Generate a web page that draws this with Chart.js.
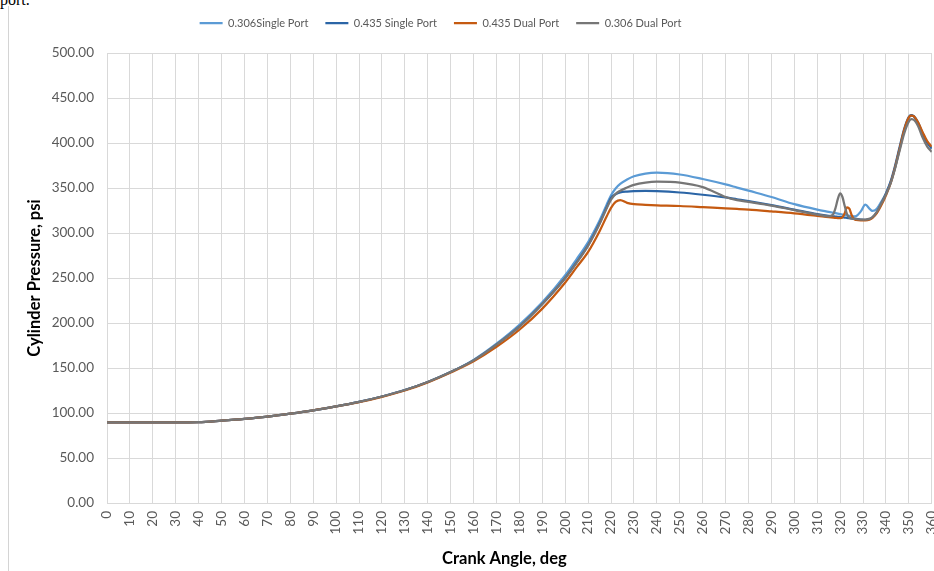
<!DOCTYPE html>
<html>
<head>
<meta charset="utf-8">
<script src="https://cdn.jsdelivr.net/npm/chart.js@4/dist/chart.umd.min.js"></script>
<style>
  html, body { margin: 0; padding: 0; background: #fff; width: 934px; height: 571px; overflow: hidden; }
  #frag { position: absolute; left: 0; top: -9px; font: 16px "Liberation Serif", serif; color: #000; line-height: 18px; }
  #frame { position: absolute; left: 8px; top: 6px; height: 600px; border-left: 1px solid #d4d4d4; }
  #wrap { position: absolute; left: 9px; top: 0; width: 947px; height: 571px; }
</style>
</head>
<body>
<div id="frag">port.</div>
<div id="frame"></div>
<div id="wrap"><canvas id="chart"></canvas></div>
<script>
// Crank angle samples (deg) shared by all four pressure traces
const crankAngle = [
  0, 10, 20, 30, 40, 50, 60, 70, 80, 90,
  100, 110, 120, 130, 140, 150, 160, 170, 180, 190,
  200, 205, 210, 215, 218, 220, 222, 224, 227, 230,
  235, 240, 250, 260, 270, 275, 280, 290, 300, 310,
  315, 317, 318, 319, 320, 321, 322, 323, 324, 325,
  326, 327, 329, 331, 333, 334, 336, 338, 340, 342,
  344, 346, 348, 350, 351, 352, 354, 356, 358, 360
];

// Cylinder pressure (psi)
const single306 = [
  89.5, 89.5, 89.5, 89.5, 89.8, 91.5, 93.5, 96.0, 99.3, 103.0,
  107.3, 112.3, 118.3, 125.5, 134.5, 145.5, 159.0, 177.0, 198.0, 223.0,
  253.0, 271.0, 290.0, 314.0, 331.0, 342.0, 349.5, 354.5, 359.5, 363.0,
  366.0, 367.0, 365.0, 360.0, 354.0, 350.5, 347.0, 340.0, 332.0, 326.0,
  323.5, 322.5, 322.0, 321.5, 321.0, 320.5, 320.0, 319.5, 319.0, 318.7,
  318.5, 318.8, 324.0, 331.5, 326.5, 324.5, 327.0, 335.0, 344.0, 356.0,
  373.0, 394.0, 414.0, 428.0, 430.5, 430.0, 423.0, 411.0, 401.0, 394.0
];
const single435 = [
  89.5, 89.5, 89.5, 89.5, 89.8, 91.5, 93.5, 96.0, 99.3, 103.0,
  107.3, 112.3, 118.3, 125.5, 134.5, 145.5, 158.5, 176.0, 196.0, 221.0,
  250.0, 267.5, 286.5, 311.0, 328.0, 339.0, 343.0, 345.0, 346.0, 346.5,
  346.8, 346.5, 345.0, 342.5, 339.5, 337.5, 335.5, 331.0, 326.0, 321.0,
  319.0, 318.5, 318.2, 318.0, 317.7, 317.4, 317.1, 316.8, 316.5, 316.2,
  315.9, 315.6, 315.0, 314.6, 315.5, 317.0, 323.0, 333.0, 344.0, 357.0,
  375.0, 396.0, 416.0, 429.0, 431.0, 430.0, 422.0, 410.0, 400.0, 394.0
];
const dual435 = [
  89.5, 89.5, 89.5, 89.5, 89.8, 91.5, 93.5, 96.0, 99.3, 103.0,
  107.3, 112.0, 118.0, 125.0, 134.0, 145.0, 157.5, 173.5, 192.5, 216.0,
  245.0, 262.0, 279.0, 302.0, 318.0, 328.0, 334.5, 336.5, 333.5, 332.0,
  331.3, 330.8, 330.0, 328.7, 327.3, 326.7, 326.0, 324.0, 321.8, 319.0,
  317.5, 317.0, 316.8, 316.6, 316.5, 317.5, 322.0, 328.5, 327.0, 320.0,
  315.5, 314.5, 314.0, 314.0, 315.0, 316.5, 322.0, 331.0, 342.0, 355.0,
  373.0, 394.0, 415.0, 428.5, 430.5, 430.0, 423.0, 412.0, 402.0, 396.0
];
const dual306 = [
  89.5, 89.5, 89.5, 89.5, 89.8, 91.5, 93.5, 96.0, 99.3, 103.0,
  107.3, 112.3, 118.3, 125.5, 134.5, 145.5, 158.5, 176.0, 196.0, 221.0,
  250.0, 267.0, 286.0, 310.0, 327.0, 337.0, 343.5, 347.0, 350.5, 353.5,
  356.0, 357.0, 356.0, 351.0, 340.0, 336.5, 334.5, 330.5, 325.5, 320.5,
  318.5, 321.0, 328.0, 338.0, 344.0, 340.0, 330.0, 321.0, 317.0, 316.0,
  315.7, 315.5, 315.0, 315.0, 316.0, 317.5, 323.5, 333.0, 343.0, 355.0,
  372.0, 392.0, 411.0, 424.0, 426.5, 426.0, 419.0, 406.0, 396.0, 390.0
];

const seriesNames = ['0.306Single Port', '0.435 Single Port', '0.435 Dual Port', '0.306 Dual Port'];
const seriesColors = ['#5B9BD5', '#2B65A6', '#C55A11', '#767676'];
const xAxisTitle = 'Crank Angle, deg';
const yAxisTitle = 'Cylinder Pressure, psi';

const FONT = 'Lato, "Open Sans", sans-serif';
Chart.defaults.font.family = FONT;

function points(values) {
  return crankAngle.map((a, i) => ({ x: a, y: values[i] }));
}

// Axis titles, drawn after the plot
const axisTitles = {
  id: 'axisTitles',
  afterDraw(chart) {
    const { ctx, chartArea } = chart;
    ctx.save();
    ctx.fillStyle = '#000';
    ctx.font = 'bold 16.5px ' + FONT;
    ctx.textAlign = 'center';
    ctx.textBaseline = 'middle';
    ctx.fillText(xAxisTitle, (chartArea.left + chartArea.right) / 2 - 15, 559);
    ctx.translate(26, (chartArea.top + chartArea.bottom) / 2);
    ctx.rotate(-Math.PI / 2);
    ctx.fillText(yAxisTitle, 0, 0);
    ctx.restore();
  }
};

// Places the legend row a little left of the canvas centre and near the top edge
const legendPlace = {
  id: 'legendPlace',
  afterLayout(chart) {
    const lg = chart.legend;
    if (!lg) return;
    const dx = 431.5 - (lg.left + lg.right) / 2;
    const lab = lg.options.labels;
    const dy = 23 - (lg.top + lab.padding + lab.font.size / 2);
    lg.left += dx; lg.right += dx;
    lg.top += dy; lg.bottom += dy;
  }
};

const datasets = [single306, single435, dual435, dual306].map((vals, i) => ({
  label: seriesNames[i],
  data: points(vals),
  borderColor: seriesColors[i],
  backgroundColor: seriesColors[i],
  borderWidth: 2.25,
  pointRadius: 0,
  pointHoverRadius: 0,
  fill: false,
  cubicInterpolationMode: 'monotone',
  order: 3 - i
}));

new Chart(document.getElementById('chart'), {
  type: 'line',
  data: { datasets },
  plugins: [axisTitles, legendPlace],
  options: {
    responsive: true,
    maintainAspectRatio: false,
    animation: false,
    events: [],
    layout: { padding: { top: 15, left: 0, right: 0, bottom: 0 } },
    plugins: {
      tooltip: { enabled: false },
      legend: {
        position: 'top',
        labels: {
          usePointStyle: true,
          pointStyle: 'line',
          pointStyleWidth: 23,
          boxHeight: 11,
          padding: 17,
          color: '#595959',
          font: { size: 11, family: FONT },
          sort: (a, b) => a.datasetIndex - b.datasetIndex
        }
      }
    },
    scales: {
      x: {
        type: 'linear',
        min: 0,
        max: 360,
        afterFit(scale) { scale.height = 68; },
        grid: { color: '#D9D9D9', lineWidth: 1, drawTicks: false },
        border: { color: '#D9D9D9' },
        ticks: {
          stepSize: 10,
          autoSkip: false,
          minRotation: 90,
          maxRotation: 90,
          padding: 8,
          color: '#595959',
          font: { size: 13.5, family: FONT }
        }
      },
      y: {
        min: 0,
        max: 500,
        afterFit(scale) { scale.width = 98; },
        grid: { color: '#D9D9D9', lineWidth: 1, drawTicks: false },
        border: { color: '#D9D9D9' },
        ticks: {
          stepSize: 50,
          padding: 13,
          color: '#595959',
          font: { size: 13.5, family: FONT },
          callback: (v) => Number(v).toFixed(2)
        }
      }
    }
  }
});
</script>
</body>
</html>
